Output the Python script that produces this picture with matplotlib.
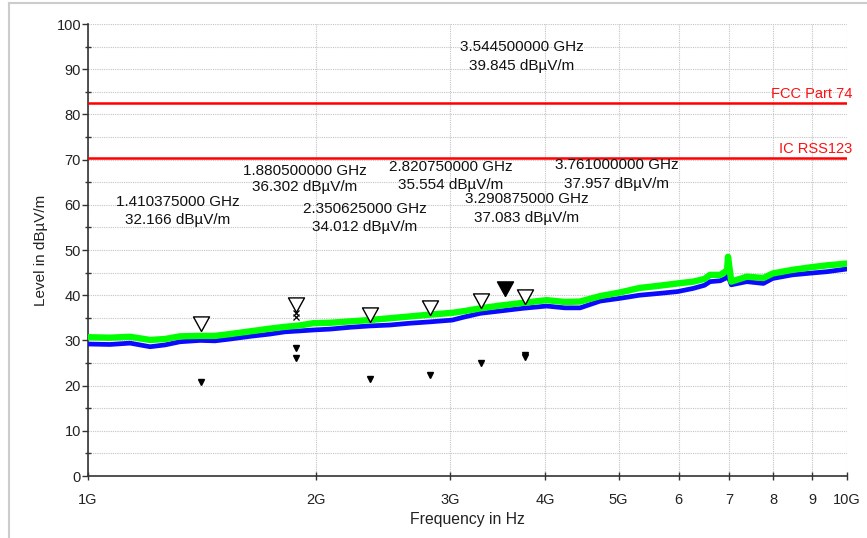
import matplotlib
matplotlib.use("Agg")
import matplotlib.pyplot as plt
from matplotlib.lines import Line2D
import numpy as np

plt.rcParams['font.family'] = ['Liberation Sans', 'DejaVu Sans']

# ---- data ----
freq_ghz = [1.000, 1.069, 1.136, 1.207, 1.263, 1.322, 1.405, 1.470, 1.538, 1.635,
            1.736, 1.818, 1.900, 1.979, 2.084, 2.214, 2.350, 2.498, 2.655, 2.820,
            3.020, 3.136, 3.290, 3.490, 3.740, 4.020, 4.250, 4.450, 4.730, 5.020,
            5.330, 5.660, 5.980, 6.270, 6.490, 6.600, 6.810, 6.950, 6.970, 7.040,
            7.380, 7.760, 7.980, 8.470, 8.980, 9.410, 10.00]
peak_dbuv = [30.7, 30.6, 30.8, 30.1, 30.3, 30.9, 31.0, 31.0, 31.4, 32.0,
             32.6, 33.0, 33.3, 33.8, 33.9, 34.2, 34.5, 34.9, 35.3, 35.7,
             36.1, 36.5, 37.1, 37.7, 38.3, 38.9, 38.5, 38.6, 39.8, 40.6,
             41.6, 42.1, 42.6, 43.0, 43.6, 44.5, 44.5, 45.5, 48.5, 43.0,
             44.1, 43.8, 44.8, 45.6, 46.2, 46.6, 47.0]
avg_dbuv = [29.2, 29.1, 29.4, 28.6, 29.0, 29.7, 30.0, 29.9, 30.3, 30.9,
            31.4, 31.9, 32.1, 32.3, 32.5, 32.9, 33.2, 33.4, 33.8, 34.1,
            34.5, 35.2, 36.0, 36.5, 37.1, 37.6, 37.2, 37.2, 38.7, 39.3,
            40.0, 40.4, 40.8, 41.5, 42.2, 43.0, 43.2, 43.9, 44.3, 42.3,
            43.0, 42.6, 43.7, 44.5, 44.9, 45.2, 45.8]

# peak markers (open triangles) and the main marker (filled)
mark_ghz = [1.410375, 1.8805, 2.350625, 2.82075, 3.290875, 3.761]
mark_level = [32.166, 36.302, 34.012, 35.554, 37.083, 37.957]
main_ghz = [3.5445]
main_level = [39.845]
cross_ghz = [1.8805, 1.8805]
cross_level = [36.0, 35.2]

# small filled triangles (final measurements)
final_ghz = [1.410375, 1.8805, 1.8805, 2.350625, 2.82075, 3.290875, 3.761, 3.761]
final_level = [20.9, 28.4, 26.2, 21.5, 22.3, 24.9, 26.4, 26.8]

# limit lines
limit_names = ['FCC Part 74', 'IC RSS123']
limit_levels = [82.5, 70.35]

# marker labels
label_lines1 = ['3.544500000 GHz', '1.880500000 GHz', '2.820750000 GHz', '3.761000000 GHz',
                '1.410375000 GHz', '2.350625000 GHz', '3.290875000 GHz']
label_lines2 = ['39.845 dBµV/m', '36.302 dBµV/m', '35.554 dBµV/m', '37.957 dBµV/m',
                '32.166 dBµV/m', '34.012 dBµV/m', '37.083 dBµV/m']
label_x_ghz = [3.728, 1.932, 3.008, 4.973, 1.312, 2.315, 3.784]
label_y1 = [94.9, 67.5, 68.4, 68.8, 60.6, 59.1, 61.2]
label_y2 = [90.8, 63.9, 64.3, 64.7, 56.6, 55.0, 57.1]

xtick_ghz = [1, 2, 3, 4, 5, 6, 7, 8, 9, 10]
xtick_labels = ['1G', '2G', '3G', '4G', '5G', '6', '7', '8', '9', '10G']

# ---- figure ----
W, H = 867, 538
fig = plt.figure(figsize=(W / 100, H / 100), dpi=100)
ax = fig.add_axes([88 / W, (H - 476) / H, (847 - 88) / W, (476 - 24) / H])

to_hz = lambda v: np.asarray(v) * 1e9

ax.plot(to_hz(freq_ghz), avg_dbuv, color='#0a0aff', lw=3.4, zorder=3)
ax.plot(to_hz(freq_ghz), peak_dbuv, color='#00ff00', lw=4.6, zorder=4)

for lvl, name in zip(limit_levels, limit_names):
    ax.axhline(lvl, color='#ff0000', lw=1.8, zorder=5)
    ax.annotate(name, xy=(1.0, lvl), xycoords=('axes fraction', 'data'),
                xytext=(5, 2), textcoords='offset pixels', ha='right', va='bottom',
                color='#ff1010', fontsize=10.5)

tri = [(0, 0), (-1.1, 2), (1.1, 2), (0, 0)]
ax.plot(to_hz(mark_ghz), mark_level, linestyle='none', marker=tri, ms=21,
        mfc='white', mec='black', mew=1.0, zorder=6)
ax.plot(to_hz(main_ghz), main_level, linestyle='none', marker=tri, ms=21,
        mfc='black', mec='black', mew=1.0, zorder=6)
ax.plot(to_hz(cross_ghz), cross_level, linestyle='none', marker='x', ms=4,
        color='black', mew=0.9, zorder=7)
ax.plot(to_hz(final_ghz), final_level, linestyle='none', marker='v', ms=5,
        color='black', zorder=6)

for t1, t2, xg, y1, y2 in zip(label_lines1, label_lines2, label_x_ghz, label_y1, label_y2):
    ax.text(xg * 1e9, y1, t1, ha='center', va='center', fontsize=11, color='#111111', zorder=8)
    ax.text(xg * 1e9, y2, t2, ha='center', va='center', fontsize=11, color='#111111', zorder=8)

ax.set_xscale('log')
ax.set_xlim(1e9, 1e10)
ax.set_ylim(0, 100)
ax.set_xticks(to_hz(xtick_ghz))
ax.set_xticklabels(xtick_labels)
ax.xaxis.set_minor_locator(matplotlib.ticker.NullLocator())
ax.set_yticks(np.arange(0, 101, 10))
ax.set_yticks(np.arange(5, 100, 10), minor=True)

ax.tick_params(axis='x', which='major', direction='inout', length=6, width=1,
               color='#333333', labelsize=10.5, pad=9, labelcolor='#222222')
ax.tick_params(axis='y', which='major', direction='out', length=4, width=1,
               color='#333333', labelsize=10.5, pad=1, labelcolor='#222222')
ax.tick_params(axis='y', which='minor', direction='inout', length=5, width=1, color='#333333')

ax.grid(True, which='both', axis='y', color='#c4c4c4', linestyle=(0, (1, 1)), lw=0.8)
ax.grid(True, which='major', axis='x', color='#c4c4c4', linestyle=(0, (1, 1)), lw=0.8)
ax.set_axisbelow(True)

for s in ['top', 'right']:
    ax.spines[s].set_visible(False)
for s in ['left', 'bottom']:
    ax.spines[s].set_color('#333333')
    ax.spines[s].set_linewidth(1.2)

ax.set_xlabel('Frequency in Hz', fontsize=11.3, color='#222222', labelpad=4)
ax.set_ylabel('Level in dBµV/m', fontsize=11, color='#222222', labelpad=6)

# outer frame (top and left edges)
fig.add_artist(Line2D([9 / W, 1], [1 - 3 / H, 1 - 3 / H], color='#cccccc', lw=1.5,
                      transform=fig.transFigure))
fig.add_artist(Line2D([9 / W, 9 / W], [0, 1 - 3 / H], color='#cccccc', lw=1.5,
                      transform=fig.transFigure))

fig.savefig('out.png', dpi=100)
